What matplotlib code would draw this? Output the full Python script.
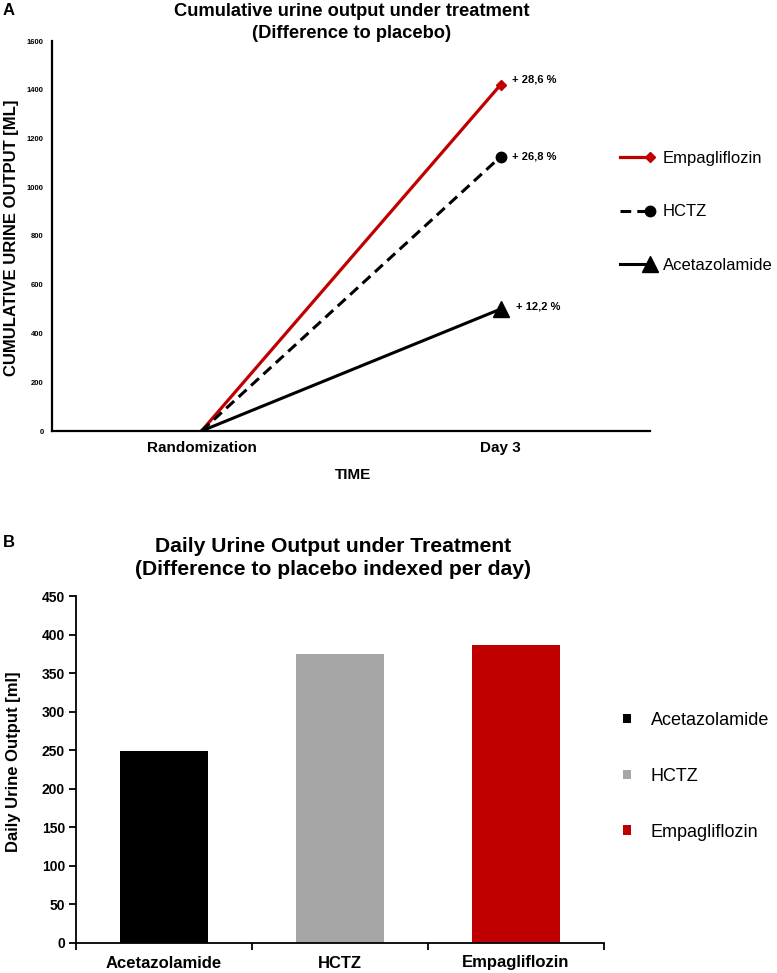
import numpy as np
import matplotlib
matplotlib.use("Agg")
import matplotlib.pyplot as plt
from matplotlib.legend_handler import HandlerLine2D
from matplotlib.lines import Line2D

plt.rcParams['font.family'] = ['Liberation Sans', 'DejaVu Sans']

# panel A: cumulative urine output (difference to placebo)
time_points = ['Randomization', 'Day 3']
empa_cum = [0, 1420]
hctz_cum = [0, 1125]
acet_cum = [0, 500]
pct_labels = ['+ 28,6 %', '+ 26,8 %', '+ 12,2 %']

# panel B: daily urine output (difference to placebo per day)
drugs = ['Acetazolamide', 'HCTZ', 'Empagliflozin']
daily_output = [249, 375, 387]
bar_colors = ['#000000', '#A6A6A6', '#C00000']

red = '#C00000'
W, H = 777, 973
fig = plt.figure(figsize=(W / 100, H / 100), dpi=100)

def fx(px):
    return px / W

def fy(py):
    return 1 - py / H


class EndMarkerHandler(HandlerLine2D):
    # legend entry with the marker at the right end of the line, like Excel
    def create_artists(self, legend, orig_handle, xdescent, ydescent,
                       width, height, fontsize, trans):
        xdata, _ = self.get_xdata(legend, xdescent, ydescent, width, height, fontsize)
        y = (height - ydescent) / 2
        line = Line2D([xdata[0], xdata[-1]], [y, y])
        self.update_prop(line, orig_handle, legend)
        line.set_markevery([1])
        line.set_transform(trans)
        return [line]


# ---------- panel A ----------
axA = fig.add_axes([fx(52), fy(431), fx(650) - fx(52), fy(41) - fy(431)])
xA = np.arange(len(time_points))
axA.plot(xA, empa_cum, color=red, lw=2.3, marker='D', ms=5, markevery=[1], label='Empagliflozin')
axA.plot(xA, hctz_cum, color='black', lw=2.2, ls=(0, (3.5, 2)), marker='o', ms=7.5, markevery=[1], label='HCTZ')
axA.plot(xA, acet_cum, color='black', lw=2.2, marker='^', ms=11, markevery=[1], label='Acetazolamide')

axA.set_xlim(-0.5, 1.5)
axA.set_ylim(0, 1600)
axA.set_yticks(np.arange(0, 1601, 200))
axA.set_xticks(xA)
axA.set_xticklabels(time_points, fontsize=11, fontweight='bold')
for lab in axA.get_yticklabels():
    lab.set_fontsize(5.5)
    lab.set_fontweight('bold')
axA.tick_params(axis='y', length=0, pad=6)
axA.tick_params(axis='x', length=0, pad=7)
for s in ['top', 'right']:
    axA.spines[s].set_visible(False)
for s in ['left', 'bottom']:
    axA.spines[s].set_linewidth(1.6)
axA.set_xlabel('TIME', fontsize=11, fontweight='bold', labelpad=10)
axA.xaxis.set_label_coords(fx(353 - 52) / (fx(650) - fx(52)), -0.095)

ends = [empa_cum[1], hctz_cum[1], acet_cum[1]]
offs = [(8, 4), (8, 0), (11, 2)]
for v, txt, o in zip(ends, pct_labels, offs):
    axA.annotate(txt, (1, v), xytext=o, textcoords='offset points',
                 ha='left', va='center', fontsize=8, fontweight='bold')

hA, lA = axA.get_legend_handles_labels()
legA = fig.legend(hA, lA, loc='upper left',
                  bbox_to_anchor=(fx(620), fy(151)), frameon=False,
                  fontsize=12, handlelength=1.8, handletextpad=0.75,
                  labelspacing=2.3, borderpad=0, borderaxespad=0,
                  handler_map={h: EndMarkerHandler(numpoints=1) for h in hA})

fig.text(fx(12), fy(238), 'CUMULATIVE URINE OUTPUT [ML]', rotation=90,
         ha='center', va='center', fontsize=12, fontweight='bold')
fig.text(fx(352), fy(3), 'Cumulative urine output under treatment\n(Difference to placebo)',
         ha='center', va='top', fontsize=13.2, fontweight='bold', linespacing=1.35)
fig.text(fx(3), fy(3), 'A', ha='left', va='top', fontsize=12, fontweight='bold')

# ---------- panel B ----------
axB = fig.add_axes([fx(76), fy(943), fx(604) - fx(76), fy(596) - fy(943)])
xB = np.arange(len(drugs))
bars = axB.bar(xB, daily_output, width=0.5, color=bar_colors)
axB.set_xlim(-0.5, 2.5)
axB.set_ylim(0, 450)
axB.set_yticks(np.arange(0, 451, 50))
axB.set_xticks(xB)
axB.set_xticklabels(drugs, fontsize=12, fontweight='bold')
axB.set_xticks(np.arange(-0.5, 2.6, 1), minor=True)
for lab in axB.get_yticklabels():
    lab.set_fontsize(10)
    lab.set_fontweight('bold')
axB.tick_params(axis='y', length=5, width=1.3, pad=3, direction='out')
axB.tick_params(axis='x', which='major', length=0, pad=9)
axB.tick_params(axis='x', which='minor', length=5, width=1.3, direction='out')
for s in ['top', 'right']:
    axB.spines[s].set_visible(False)
for s in ['left', 'bottom']:
    axB.spines[s].set_linewidth(1.3)

fig.text(fx(14), fy(762), 'Daily Urine Output [ml]', rotation=90,
         ha='center', va='center', fontsize=12, fontweight='bold')
fig.text(fx(333), fy(537), 'Daily Urine Output under Treatment\n(Difference to placebo indexed per day)',
         ha='center', va='top', fontsize=15.2, fontweight='bold', linespacing=1.25)
fig.text(fx(3), fy(535), 'B', ha='left', va='top', fontsize=12, fontweight='bold')

legB = fig.legend(bars, drugs, loc='upper left', bbox_to_anchor=(fx(623), fy(712)),
                  frameon=False, fontsize=13, handlelength=0.45, handleheight=0.45,
                  handletextpad=1.1, labelspacing=2.15, borderpad=0, borderaxespad=0)

fig.savefig('out.png', dpi=100)
